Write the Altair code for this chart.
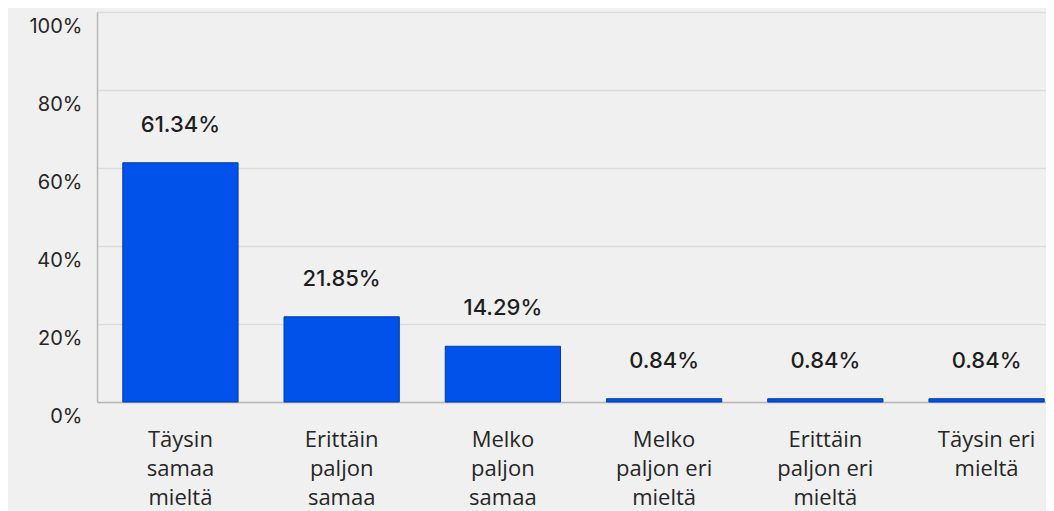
import altair as alt
import pandas as pd

categories = [
    "Täysin samaa mieltä",
    "Erittäin paljon samaa mieltä",
    "Melko paljon samaa mieltä",
    "Melko paljon eri mieltä",
    "Erittäin paljon eri mieltä",
    "Täysin eri mieltä",
]
# tick label lines as visible in the picture (the chart is cropped below the 3rd line)
tick_label_lines = [
    ["Täysin", "samaa", "mieltä"],
    ["Erittäin", "paljon", "samaa"],
    ["Melko", "paljon", "samaa"],
    ["Melko", "paljon eri", "mieltä"],
    ["Erittäin", "paljon eri", "mieltä"],
    ["Täysin eri", "mieltä"],
]
values = [61.34, 21.85, 14.29, 0.84, 0.84, 0.84]
y_ticks = [0, 10, 20, 30, 40, 50, 60, 70, 80, 90, 100]
y_labelled = [0, 20, 40, 60, 80, 100]

df = pd.DataFrame({"category": categories, "value": values})

def lines_js(lines):
    return "[" + ",".join("'" + s + "'" for s in lines) + "]"

label_expr = ""
for cat, lines in zip(categories, tick_label_lines):
    label_expr += f"datum.value == '{cat}' ? {lines_js(lines)} : "
label_expr += "datum.label"

y_label_expr = "indexof([" + ",".join(str(v) for v in y_labelled) + "], datum.value) >= 0 ? datum.value + '%' : ''"

x_enc = alt.X(
    "category:N",
    sort=categories,
    title=None,
    scale=alt.Scale(paddingInner=0.285, paddingOuter=0.16, range=[0, 973]),
    axis=alt.Axis(
        labelExpr=label_expr,
        labelAngle=0,
        labelAlign="center",
        labelBaseline="top",
        labelPadding=27,
        labelLineHeight=29,
        labelFont="Open Sans",
        labelFontSize=22,
        labelColor="#262626",
        labelLimit=0,
        labelOverlap=False,
        ticks=False,
        domainColor="#b8b8b8",
        domainWidth=1.5,
        grid=False,
    ),
)

y_enc = alt.Y(
    "value:Q",
    title=None,
    scale=alt.Scale(domain=[0, 100], nice=False),
    axis=alt.Axis(
        values=y_ticks,
        labelExpr=y_label_expr,
        labelOverlap=False,
        labelPadding=15,
        labelOffset=14,
        labelFont="Inter",
        labelFontSize=20,
        labelColor="#262626",
        ticks=False,
        domainColor="#b8b8b8",
        domainWidth=1.5,
        grid=True,
        gridColor="#dcdcdc",
        gridWidth=1.5,
    ),
)

base = alt.Chart(df)

bars = base.mark_bar(color="#0052EB", stroke="#003BAA", strokeWidth=1).encode(x=x_enc, y=y_enc)

labels = base.transform_calculate(
    lbl="format(datum.value, '.2f') + '%'"
).mark_text(
    baseline="alphabetic",
    align="center",
    dy=-31,
    font="Inter",
    fontSize=22,
    fontWeight=500,
    color="#1e1e1e",
).encode(x=alt.X("category:N", sort=categories), y="value:Q", text="lbl:N")

chart = (
    alt.layer(bars, labels)
    .properties(
        width=949,
        height=390,
        background="#f0f0f0",
        padding={"left": 89, "top": 4, "right": 0, "bottom": 109},
        autosize=alt.AutoSizeParams(type="none"),
    )
    .configure_view(stroke=None)
)

chart.save("out.html", embed_options={"renderer": "svg", "actions": False})
